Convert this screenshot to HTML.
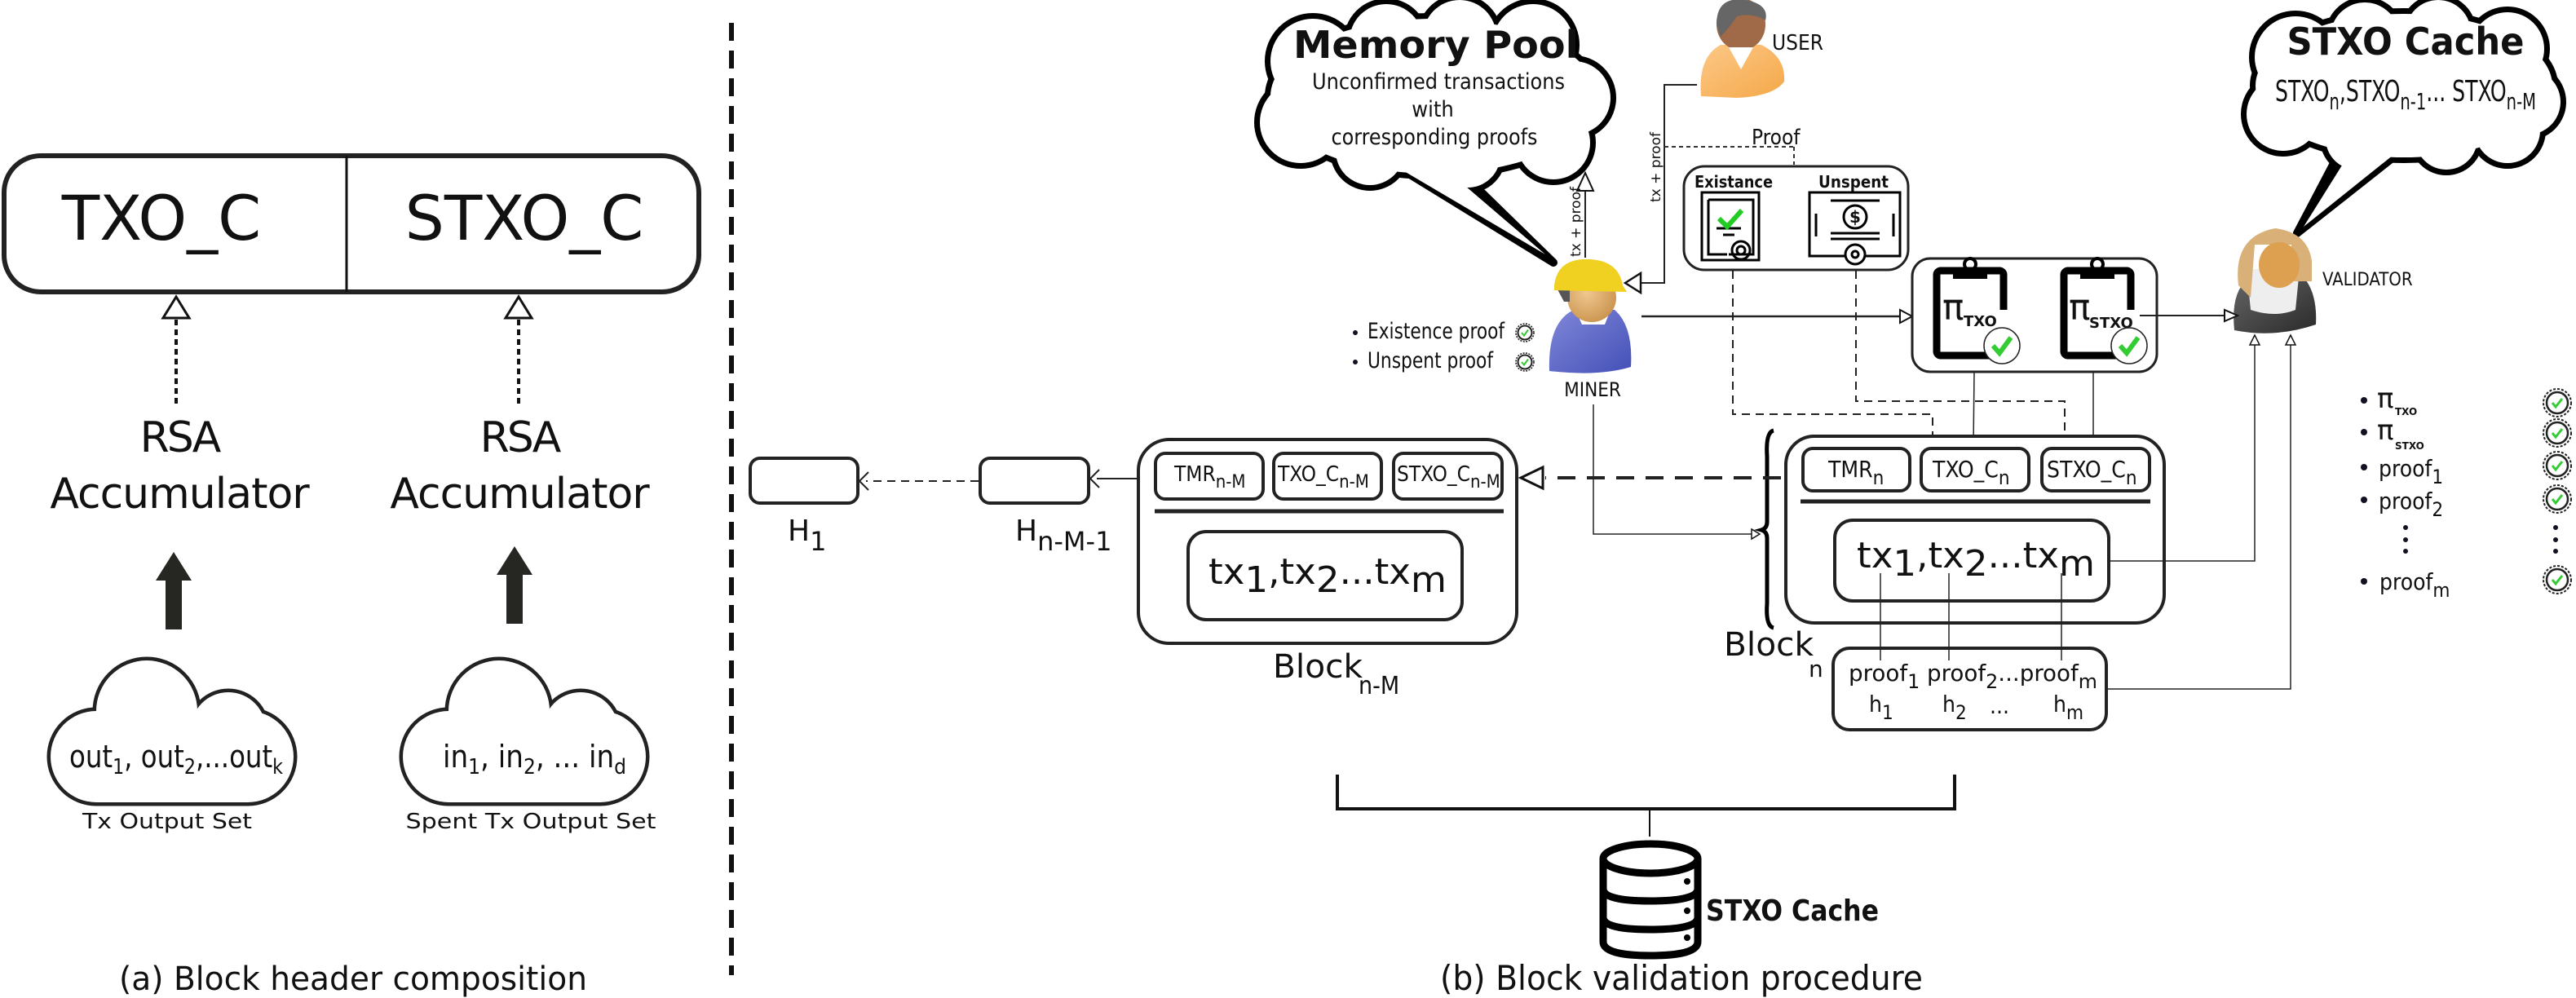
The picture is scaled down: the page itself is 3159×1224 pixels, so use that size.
<!DOCTYPE html>
<html><head><meta charset="utf-8"><style>
html,body{margin:0;padding:0;background:#fff;}
svg{display:block;}
text{font-family:"DejaVu Sans","Liberation Sans",sans-serif;fill:#111;}
.c{font-family:"Liberation Sans Narrow","DejaVu Sans Condensed","Liberation Sans",sans-serif;}
</style></head><body>
<svg width="3159" height="1224" viewBox="0 0 3159 1224" xmlns="http://www.w3.org/2000/svg">
<defs>
<radialGradient id="skin" cx="0.4" cy="0.4" r="0.7"><stop offset="0" stop-color="#f0c890"/><stop offset="1" stop-color="#c8904a"/></radialGradient>
<linearGradient id="blue" x1="0" y1="0" x2="1" y2="1"><stop offset="0" stop-color="#8088d8"/><stop offset="1" stop-color="#4450b8"/></linearGradient>
<linearGradient id="orange" x1="0" y1="0" x2="1" y2="1"><stop offset="0" stop-color="#fcc888"/><stop offset="1" stop-color="#f5a848"/></linearGradient>
<linearGradient id="dark" x1="0" y1="0" x2="1" y2="1"><stop offset="0" stop-color="#666"/><stop offset="1" stop-color="#2a2a2a"/></linearGradient>
<g id="seal"><circle r="17" fill="#fff" stroke="#222" stroke-width="2" stroke-dasharray="3 2"/><circle r="13" fill="#fff" stroke="#222" stroke-width="2.5"/><path d="M-6 0 L-2 5 L6 -5" fill="none" stroke="#3c3" stroke-width="3"/></g>
<g id="sealS"><circle r="11" fill="#fff" stroke="#222" stroke-width="1.6" stroke-dasharray="2 1.5"/><circle r="8.5" fill="#fff" stroke="#222" stroke-width="2"/><path d="M-4 0 L-1 3.5 L4 -3.5" fill="none" stroke="#3c3" stroke-width="2"/></g>
</defs>

<!-- ============ LEFT PANEL ============ -->
<rect x="5" y="191" width="852" height="167" rx="45" fill="#fff" stroke="#222" stroke-width="6"/>
<line x1="425" y1="191" x2="425" y2="358" stroke="#111" stroke-width="3"/>
<text x="198" y="294" font-size="76" text-anchor="middle" fill="#222">TXO_C</text>
<text x="643" y="294" font-size="76" text-anchor="middle" fill="#222">STXO_C</text>

<g stroke="#111" fill="#fff">
<path d="M216 364 L200 390 L232 390 Z" stroke-width="3"/>
<line x1="216" y1="392" x2="216" y2="499" stroke-width="4" stroke-dasharray="7 5"/>
<path d="M636 364 L620 390 L652 390 Z" stroke-width="3"/>
<line x1="636" y1="392" x2="636" y2="499" stroke-width="4" stroke-dasharray="7 5"/>
</g>
<text x="220" y="554" font-size="52" text-anchor="middle" letter-spacing="-3" fill="#222">RSA</text>
<text x="220" y="623" font-size="52" text-anchor="middle" letter-spacing="-1" fill="#222">Accumulator</text>
<text x="637" y="554" font-size="52" text-anchor="middle" letter-spacing="-3" fill="#222">RSA</text>
<text x="637" y="623" font-size="52" text-anchor="middle" letter-spacing="-1" fill="#222">Accumulator</text>
<path d="M213 677 L235 712 L223 712 L223 772 L203 772 L203 712 L191 712 Z" fill="#262622"/>
<path d="M631 670 L653 705 L641 705 L641 765 L621 765 L621 705 L609 705 Z" fill="#262622"/>

<!-- clouds -->
<g stroke="#222" stroke-width="9" fill="#222">
<rect x="62" y="872" width="298" height="112" rx="56"/><circle cx="180" cy="872" r="62"/><circle cx="280" cy="895" r="46"/>
<rect x="494" y="872" width="298" height="112" rx="56"/><circle cx="612" cy="872" r="62"/><circle cx="712" cy="895" r="46"/>
</g>
<g fill="#fff">
<rect x="62" y="872" width="298" height="112" rx="56"/><circle cx="180" cy="872" r="62"/><circle cx="280" cy="895" r="46"/>
<rect x="494" y="872" width="298" height="112" rx="56"/><circle cx="612" cy="872" r="62"/><circle cx="712" cy="895" r="46"/>
</g>
<text class="c" x="85" y="941" font-size="38" textLength="262" lengthAdjust="spacingAndGlyphs">out<tspan dy="8" font-size="26">1</tspan><tspan dy="-8">, out</tspan><tspan dy="8" font-size="26">2</tspan><tspan dy="-8">,...out</tspan><tspan dy="8" font-size="26">k</tspan></text>
<text class="c" x="543" y="941" font-size="38" textLength="225" lengthAdjust="spacingAndGlyphs">in<tspan dy="8" font-size="26">1</tspan><tspan dy="-8">, in</tspan><tspan dy="8" font-size="26">2</tspan><tspan dy="-8">, ... in</tspan><tspan dy="8" font-size="26">d</tspan></text>
<text x="205" y="1016" font-size="26" text-anchor="middle" textLength="208" lengthAdjust="spacingAndGlyphs">Tx Output Set</text>
<text x="651" y="1016" font-size="26" text-anchor="middle" textLength="307" lengthAdjust="spacingAndGlyphs">Spent Tx Output Set</text>
<text x="433" y="1214" font-size="40" text-anchor="middle" textLength="574" lengthAdjust="spacingAndGlyphs">(a) Block header composition</text>

<line x1="897" y1="28" x2="897" y2="1196" stroke="#111" stroke-width="6" stroke-dasharray="22 12"/>

<!-- ============ RIGHT PANEL ============ -->
<!-- Memory pool bubble -->
<g>
<path d="M1690 190 L1905 322 L1780 200 Z" fill="#000" stroke="#000" stroke-width="10" stroke-linejoin="round"/>
<g fill="#000" stroke="#000" stroke-width="14">
<ellipse cx="1758" cy="118" rx="200" ry="95"/><circle cx="1610" cy="75" r="52"/><circle cx="1700" cy="50" r="45"/><circle cx="1790" cy="45" r="45"/><circle cx="1880" cy="55" r="50"/><circle cx="1930" cy="120" r="45"/><circle cx="1595" cy="150" r="50"/><circle cx="1680" cy="185" r="42"/><circle cx="1800" cy="190" r="40"/><circle cx="1905" cy="175" r="45"/>
</g>
<g fill="#fff">
<ellipse cx="1758" cy="118" rx="200" ry="95"/><circle cx="1610" cy="75" r="52"/><circle cx="1700" cy="50" r="45"/><circle cx="1790" cy="45" r="45"/><circle cx="1880" cy="55" r="50"/><circle cx="1930" cy="120" r="45"/><circle cx="1595" cy="150" r="50"/><circle cx="1680" cy="185" r="42"/><circle cx="1800" cy="190" r="40"/><circle cx="1905" cy="175" r="45"/>
</g>
<path d="M1705 200 L1895 312 L1770 205 Z" fill="#fff"/>
<text x="1761" y="71" font-size="46" font-weight="bold" text-anchor="middle" textLength="350" lengthAdjust="spacingAndGlyphs" fill="#000">Memory Pool</text>
<text class="c" x="1764" y="109" font-size="27" text-anchor="middle" textLength="310" lengthAdjust="spacingAndGlyphs">Unconfirmed transactions</text>
<text class="c" x="1757" y="143" font-size="27" text-anchor="middle">with</text>
<text class="c" x="1759" y="177" font-size="27" text-anchor="middle" textLength="253" lengthAdjust="spacingAndGlyphs">corresponding proofs</text>
</g>

<!-- STXO cache bubble -->
<g>
<path d="M2870 185 L2817 286 L2945 185 Z" fill="#000" stroke="#000" stroke-width="10" stroke-linejoin="round"/>
<g fill="#000" stroke="#000" stroke-width="14">
<ellipse cx="2948" cy="105" rx="182" ry="88"/><circle cx="2815" cy="70" r="50"/><circle cx="2900" cy="45" r="42"/><circle cx="2990" cy="40" r="40"/><circle cx="3075" cy="60" r="45"/><circle cx="3100" cy="125" r="40"/><circle cx="2800" cy="140" r="45"/><circle cx="2890" cy="170" r="38"/><circle cx="3000" cy="170" r="38"/><circle cx="3075" cy="160" r="40"/>
</g>
<g fill="#fff">
<ellipse cx="2948" cy="105" rx="182" ry="88"/><circle cx="2815" cy="70" r="50"/><circle cx="2900" cy="45" r="42"/><circle cx="2990" cy="40" r="40"/><circle cx="3075" cy="60" r="45"/><circle cx="3100" cy="125" r="40"/><circle cx="2800" cy="140" r="45"/><circle cx="2890" cy="170" r="38"/><circle cx="3000" cy="170" r="38"/><circle cx="3075" cy="160" r="40"/>
</g>
<path d="M2880 190 L2825 278 L2935 190 Z" fill="#fff"/>
<text x="2950" y="67" font-size="46" font-weight="bold" text-anchor="middle" textLength="291" lengthAdjust="spacingAndGlyphs" fill="#000">STXO Cache</text>
<text class="c" x="2790" y="124" font-size="36" textLength="320" lengthAdjust="spacingAndGlyphs">STXO<tspan dy="10" font-size="28">n</tspan><tspan dy="-10">,STXO</tspan><tspan dy="10" font-size="28">n-1</tspan><tspan dy="-10">... STXO</tspan><tspan dy="10" font-size="28">n-M</tspan></text>
</g>

<!-- USER -->
<g>
<path d="M2086 118 Q2082 70 2110 55 L2160 55 Q2190 70 2188 100 Q2175 118 2130 120 Z" fill="url(#orange)"/>
<ellipse cx="2135" cy="30" rx="30" ry="32" fill="#a06a48"/>
<path d="M2105 30 Q2105 -5 2140 0 Q2170 5 2165 25 Q2150 15 2130 20 Q2120 35 2110 45 Z" fill="#666"/>
<path d="M2120 58 L2135 85 L2150 58 Z" fill="#fff"/>
<text class="c" x="2173" y="61" font-size="26">USER</text>
</g>

<!-- MINER -->
<g>
<path d="M1900 455 Q1898 395 1930 380 L1980 380 Q2003 400 2000 450 Q1960 462 1900 455 Z" fill="url(#blue)"/>
<path d="M1932 380 L1975 380 L1968 398 L1940 398 Z" fill="#fff"/>
<ellipse cx="1952" cy="365" rx="30" ry="30" fill="url(#skin)"/>
<path d="M1910 355 L1918 370 L1925 370 L1925 355 Z" fill="#555"/>
<path d="M1906 350 Q1910 316 1950 318 Q1985 320 1990 350 L1995 358 L1906 356 Z" fill="#f0d020"/>
<text class="c" x="1953" y="486" font-size="24" text-anchor="middle">MINER</text>
</g>

<!-- VALIDATOR -->
<g>
<path d="M2740 405 Q2735 355 2760 340 L2825 340 Q2842 360 2840 398 Q2790 415 2740 405 Z" fill="url(#dark)"/>
<path d="M2755 330 L2820 330 L2815 380 Q2790 390 2760 380 Z" fill="#eee"/>
<path d="M2745 350 Q2738 290 2790 280 Q2830 285 2835 320 L2835 345 L2810 345 L2810 300 L2765 300 L2760 365 Z" fill="#d8b078"/>
<ellipse cx="2795" cy="325" rx="25" ry="28" fill="#dca050"/>
<text class="c" x="2848" y="350" font-size="22">VALIDATOR</text>
</g>

<!-- user -> miner connector -->
<g stroke="#222" fill="none" stroke-width="2">
<polyline points="2081,104 2041,104 2041,347 2003,347"/>
</g>
<path d="M1993 347 L2012 335 L2012 359 Z" fill="#fff" stroke="#111" stroke-width="2.5"/>
<text x="0" y="0" font-size="17" transform="translate(2036,248) rotate(-90)">tx + proof</text>
<line x1="2041" y1="180" x2="2200" y2="180" stroke="#333" stroke-width="2" stroke-dasharray="5 4"/>
<line x1="2200" y1="180" x2="2200" y2="202" stroke="#333" stroke-width="2" stroke-dasharray="5 4"/>
<text class="c" x="2148" y="177" font-size="26">Proof</text>

<!-- miner -> memory pool -->
<line x1="1944" y1="316" x2="1944" y2="234" stroke="#222" stroke-width="2"/>
<path d="M1944 212 L1934 234 L1954 234 Z" fill="#fff" stroke="#111" stroke-width="2"/>
<text x="0" y="0" font-size="17" transform="translate(1938,315) rotate(-90)">tx + proof</text>

<!-- Existance/Unspent box -->
<rect x="2065" y="204" width="275" height="127" rx="25" fill="#fff" stroke="#222" stroke-width="3"/>
<text x="2078" y="230" font-size="20" font-weight="bold" fill="#000" textLength="96" lengthAdjust="spacingAndGlyphs">Existance</text>
<text x="2230" y="230" font-size="20" font-weight="bold" fill="#000" textLength="86" lengthAdjust="spacingAndGlyphs">Unspent</text>
<g fill="none" stroke="#000" stroke-width="3">
<rect x="2087" y="236" width="70" height="83"/>
<path d="M2095 245 L2150 245 L2150 312 L2120 312 M2095 245 L2095 312 L2118 312"/>
<circle cx="2135" cy="307" r="11"/><circle cx="2135" cy="307" r="5"/>
<line x1="2105" y1="280" x2="2135" y2="280"/><line x1="2113" y1="288" x2="2127" y2="288"/>
<rect x="2219" y="236" width="111" height="78"/>
<line x1="2245" y1="246" x2="2305" y2="246"/><circle cx="2275" cy="266" r="14"/>
<line x1="2245" y1="286" x2="2305" y2="286"/><line x1="2245" y1="293" x2="2305" y2="293"/>
<line x1="2227" y1="262" x2="2227" y2="290"/><line x1="2322" y1="262" x2="2322" y2="290"/>
<circle cx="2275" cy="312" r="12" fill="#fff"/><circle cx="2275" cy="312" r="4"/>
</g>
<path d="M2108 268 L2118 278 L2136 258" fill="none" stroke="#2c2" stroke-width="6"/>
<text x="2275" y="273" font-size="20" font-weight="bold" text-anchor="middle" fill="#000">$</text>

<!-- bullets near miner -->
<circle cx="1662" cy="408" r="3" fill="#112"/>
<circle cx="1662" cy="444" r="3" fill="#112"/>
<text class="c" x="1677" y="415" font-size="27" textLength="168" lengthAdjust="spacingAndGlyphs">Existence proof</text>
<text class="c" x="1677" y="451" font-size="27" textLength="154" lengthAdjust="spacingAndGlyphs">Unspent proof</text>
<use href="#sealS" x="1870" y="408"/>
<use href="#sealS" x="1870" y="444"/>

<!-- miner -> pi box -->
<line x1="2013" y1="388" x2="2330" y2="388" stroke="#222" stroke-width="2.5"/>
<path d="M2345 388 L2330 380 L2330 396 Z" fill="#fff" stroke="#111" stroke-width="2"/>

<!-- pi box -->
<rect x="2345" y="317" width="300" height="139" rx="22" fill="#fff" stroke="#222" stroke-width="3"/>
<g>
<rect x="2375" y="332" width="82" height="104" rx="5" fill="none" stroke="#000" stroke-width="9"/>
<rect x="2395" y="328" width="42" height="14" fill="#000"/><circle cx="2416" cy="324" r="7" fill="none" stroke="#000" stroke-width="4"/>
<rect x="2440" y="380" width="25" height="50" fill="#fff"/>
<text x="2382" y="392" font-size="44" fill="#000">π</text><text x="2408" y="400" font-size="18" font-weight="bold" fill="#000">TXO</text>
<circle cx="2455" cy="424" r="22" fill="#fff" stroke="#222" stroke-width="1.5"/>
<path d="M2444 424 L2452 433 L2466 414" fill="none" stroke="#3c3" stroke-width="6"/>
<rect x="2531" y="332" width="82" height="104" rx="5" fill="none" stroke="#000" stroke-width="9"/>
<rect x="2551" y="328" width="42" height="14" fill="#000"/><circle cx="2572" cy="324" r="7" fill="none" stroke="#000" stroke-width="4"/>
<rect x="2596" y="380" width="25" height="50" fill="#fff"/>
<text x="2537" y="392" font-size="44" fill="#000">π</text><text x="2562" y="402" font-size="18" font-weight="bold" fill="#000">STXO</text>
<circle cx="2611" cy="424" r="22" fill="#fff" stroke="#222" stroke-width="1.5"/>
<path d="M2600 424 L2608 433 L2622 414" fill="none" stroke="#3c3" stroke-width="6"/>
</g>
<line x1="2624" y1="387" x2="2728" y2="387" stroke="#222" stroke-width="2"/>
<path d="M2744 387 L2728 380 L2728 394 Z" fill="#fff" stroke="#111" stroke-width="2"/>

<!-- dashed cert lines -->
<g stroke="#222" stroke-width="2" fill="none" stroke-dasharray="10 7">
<polyline points="2125,332 2125,508 2370,508 2370,548"/>
<polyline points="2276,332 2276,492 2532,492 2532,548"/>
</g>
<line x1="2421" y1="456" x2="2420" y2="548" stroke="#222" stroke-width="1.5"/>
<line x1="2567" y1="456" x2="2567" y2="548" stroke="#222" stroke-width="1.5"/>

<!-- Block n -->
<rect x="2190" y="535" width="464" height="229" rx="35" fill="#fff" stroke="#222" stroke-width="4"/>
<rect x="2211" y="550" width="131" height="52" rx="12" fill="#fff" stroke="#222" stroke-width="4"/>
<rect x="2356" y="550" width="132" height="52" rx="12" fill="#fff" stroke="#222" stroke-width="4"/>
<rect x="2504" y="550" width="132" height="52" rx="12" fill="#fff" stroke="#222" stroke-width="4"/>
<line x1="2208" y1="615" x2="2637" y2="615" stroke="#222" stroke-width="5"/>
<text class="c" x="2242" y="585" font-size="28">TMR<tspan dy="9" font-size="24">n</tspan></text>
<text class="c" x="2370" y="585" font-size="28">TXO_C<tspan dy="9" font-size="24">n</tspan></text>
<text class="c" x="2510" y="585" font-size="28">STXO_C<tspan dy="9" font-size="24">n</tspan></text>
<rect x="2250" y="638" width="336" height="99" rx="22" fill="#fff" stroke="#222" stroke-width="4"/>
<text x="2277" y="696" font-size="44" textLength="292" lengthAdjust="spacingAndGlyphs">tx<tspan dy="10">1</tspan><tspan dy="-10">,tx</tspan><tspan dy="10">2</tspan><tspan dy="-10">...tx</tspan><tspan dy="10">m</tspan></text>
<path d="M2175 528 Q2165 530 2167 560 L2167 640 Q2167 648 2160 650 Q2167 652 2167 660 L2167 740 Q2165 768 2175 770" fill="none" stroke="#000" stroke-width="5"/>
<text x="2114" y="804" font-size="40" textLength="110" lengthAdjust="spacingAndGlyphs">Block</text>
<text x="2218" y="830" font-size="28">n</text>

<!-- proof box -->
<rect x="2248" y="795" width="335" height="100" rx="20" fill="#fff" stroke="#222" stroke-width="4"/>
<text class="c" x="2267" y="835" font-size="28" textLength="305" lengthAdjust="spacingAndGlyphs">proof<tspan dy="9" font-size="24">1</tspan><tspan dy="-9"> proof</tspan><tspan dy="9" font-size="24">2</tspan><tspan dy="-9">...proof</tspan><tspan dy="9" font-size="24">m</tspan></text>
<text class="c" x="2292" y="873" font-size="28">h<tspan dy="9" font-size="24">1</tspan></text>
<text class="c" x="2382" y="873" font-size="28">h<tspan dy="9" font-size="24">2</tspan></text>
<text class="c" x="2440" y="875" font-size="28">...</text>
<text class="c" x="2518" y="873" font-size="28">h<tspan dy="9" font-size="24">m</tspan></text>
<g stroke="#222" stroke-width="1.5">
<line x1="2306" y1="703" x2="2306" y2="810"/><line x1="2390" y1="703" x2="2390" y2="810"/><line x1="2528" y1="703" x2="2528" y2="810"/>
</g>
<!-- to validator -->
<g stroke="#222" stroke-width="1.5" fill="none">
<polyline points="2587,688 2765,688 2765,422"/>
<polyline points="2585,845 2809,845 2809,422"/>
</g>
<path d="M2765 411 L2759 423 L2771 423 Z" fill="#fff" stroke="#111" stroke-width="1.5"/>
<path d="M2809 411 L2803 423 L2815 423 Z" fill="#fff" stroke="#111" stroke-width="1.5"/>

<!-- miner down to block n -->
<polyline points="1954,496 1954,655 2150,655" fill="none" stroke="#222" stroke-width="1.5"/>
<path d="M2158 655 L2148 649 L2148 661 Z" fill="#fff" stroke="#111" stroke-width="1.5"/>

<!-- big dashed arrow -->
<line x1="2184" y1="586" x2="1895" y2="586" stroke="#222" stroke-width="4" stroke-dasharray="22 14"/>
<path d="M1865 586 L1892 573 L1892 599 Z" fill="#fff" stroke="#111" stroke-width="3"/>

<!-- Block n-M -->
<rect x="1396" y="539" width="464" height="250" rx="38" fill="#fff" stroke="#222" stroke-width="4"/>
<rect x="1417" y="556" width="132" height="56" rx="12" fill="#fff" stroke="#222" stroke-width="4"/>
<rect x="1562" y="556" width="132" height="56" rx="12" fill="#fff" stroke="#222" stroke-width="4"/>
<rect x="1709" y="556" width="133" height="56" rx="12" fill="#fff" stroke="#222" stroke-width="4"/>
<line x1="1416" y1="627" x2="1844" y2="627" stroke="#222" stroke-width="5"/>
<text class="c" x="1440" y="590" font-size="26">TMR<tspan dy="8" font-size="22">n-M</tspan></text>
<text class="c" x="1567" y="590" font-size="26">TXO_C<tspan dy="8" font-size="22">n-M</tspan></text>
<text class="c" x="1713" y="590" font-size="26">STXO_C<tspan dy="8" font-size="22">n-M</tspan></text>
<rect x="1457" y="652" width="336" height="108" rx="22" fill="#fff" stroke="#222" stroke-width="4"/>
<text x="1482" y="716" font-size="44" textLength="292" lengthAdjust="spacingAndGlyphs">tx<tspan dy="10">1</tspan><tspan dy="-10">,tx</tspan><tspan dy="10">2</tspan><tspan dy="-10">...tx</tspan><tspan dy="10">m</tspan></text>
<text x="1561" y="831" font-size="40" textLength="110" lengthAdjust="spacingAndGlyphs">Block</text>
<text class="c" x="1666" y="851" font-size="30">n-M</text>

<!-- H boxes -->
<line x1="1396" y1="587" x2="1345" y2="587" stroke="#222" stroke-width="2"/>
<path d="M1337 587 L1348 576 M1337 587 L1348 598" stroke="#222" stroke-width="2" fill="none"/>
<rect x="1202" y="562" width="133" height="55" rx="12" fill="#fff" stroke="#222" stroke-width="4"/>
<line x1="1200" y1="590" x2="1062" y2="590" stroke="#222" stroke-width="2" stroke-dasharray="10 7"/>
<path d="M1054 590 L1065 579 M1054 590 L1065 601" stroke="#222" stroke-width="2" fill="none"/>
<rect x="920" y="562" width="132" height="55" rx="12" fill="#fff" stroke="#222" stroke-width="4"/>
<text x="966" y="663" font-size="36">H<tspan dy="12" font-size="32">1</tspan></text>
<text x="1245" y="663" font-size="36">H<tspan dy="12" font-size="32">n-M-1</tspan></text>

<!-- bottom bracket + db -->
<polyline points="1640,950 1640,992 2397,992 2397,950" fill="none" stroke="#111" stroke-width="4"/>
<line x1="2023" y1="992" x2="2023" y2="1026" stroke="#111" stroke-width="2"/>
<g fill="none" stroke="#000" stroke-width="9">
<ellipse cx="2024" cy="1053" rx="58" ry="18"/>
<path d="M1966 1053 L1966 1155 Q1966 1172 2024 1172 Q2082 1172 2082 1155 L2082 1053"/>
<path d="M1966 1090 Q1966 1105 2024 1105 Q2082 1105 2082 1090"/>
<path d="M1966 1125 Q1966 1140 2024 1140 Q2082 1140 2082 1125"/>
</g>
<circle cx="2069" cy="1081" r="4" fill="#000"/><circle cx="2069" cy="1117" r="4" fill="#000"/><circle cx="2069" cy="1150" r="4" fill="#000"/>
<text class="c" x="2092" y="1129" font-size="36" font-weight="bold" fill="#000" textLength="212" lengthAdjust="spacingAndGlyphs">STXO Cache</text>
<text class="c" x="1766" y="1214" font-size="42" textLength="592" lengthAdjust="spacingAndGlyphs">(b) Block validation procedure</text>

<!-- right list -->
<g fill="#112"><circle cx="2899" cy="491" r="4"/><circle cx="2899" cy="530" r="4"/><circle cx="2899" cy="573" r="4"/><circle cx="2899" cy="613" r="4"/><circle cx="2899" cy="713" r="4"/>
<circle cx="2950" cy="647" r="3"/><circle cx="2950" cy="662" r="3"/><circle cx="2950" cy="676" r="3"/>
<circle cx="3134" cy="647" r="3"/><circle cx="3134" cy="662" r="3"/><circle cx="3134" cy="676" r="3"/></g>
<text x="2915" y="500" font-size="34">π</text><text x="2937" y="509" font-size="12" font-weight="bold">TXO</text>
<text x="2915" y="539" font-size="34">π</text><text x="2937" y="551" font-size="12" font-weight="bold">STXO</text>
<text class="c" x="2917" y="584" font-size="28">proof<tspan dy="9" font-size="24">1</tspan></text>
<text class="c" x="2917" y="624" font-size="28">proof<tspan dy="9" font-size="24">2</tspan></text>
<text class="c" x="2918" y="723" font-size="28">proof<tspan dy="9" font-size="24">m</tspan></text>
<use href="#seal" x="3136" y="494"/>
<use href="#seal" x="3136" y="531"/>
<use href="#seal" x="3136" y="571"/>
<use href="#seal" x="3136" y="612"/>
<use href="#seal" x="3136" y="711"/>
</svg>
</body></html>
